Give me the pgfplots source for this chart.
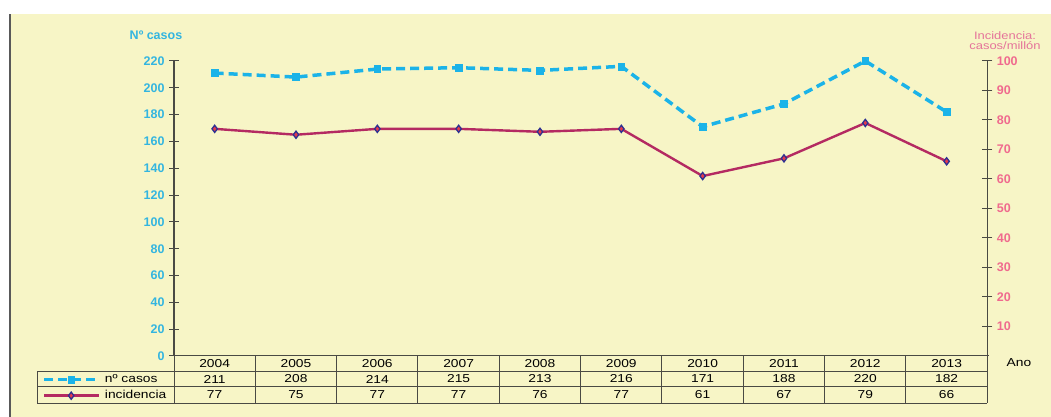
\documentclass[border=0pt]{standalone}
\usepackage{fontspec}
\setmainfont{Liberation Sans}
\newfontfamily\tablefont[FakeStretch=1.2]{Liberation Sans}
\usepackage{pgfplots}
\pgfplotsset{compat=1.18}
\definecolor{bg}{HTML}{F7F5C6}
\definecolor{cyanline}{HTML}{1BB3E8}
\definecolor{cyantext}{HTML}{33B5E0}
\definecolor{pinktext}{HTML}{F06A8E}
\definecolor{pinklabel}{HTML}{E5739A}
\definecolor{redline}{HTML}{B42A62}
\definecolor{markred}{HTML}{E53A4C}
\definecolor{marknavy}{HTML}{2E3192}
\definecolor{axisgray}{HTML}{4A4A44}

\pgfplotsset{
  casosstyle/.style={cyanline, line width=3.5pt, dash pattern=on 9pt off 5pt,
    mark=square*, mark size=3.4pt, mark options={solid, fill=cyanline, draw=cyanline, line width=0.5pt}},
  incstyle/.style={redline, line width=2.4pt, mark=diamond*, mark size=3.6pt,
    mark options={solid, fill=markred, draw=marknavy, line width=1.3pt}},
  common/.style={at={(174pt,61pt)}, anchor=south west, scale only axis,
    width=813.3pt, height=295pt, xmin=-0.5, xmax=9.5, axis x line=none,
    clip=false, tick align=center, major tick length=10pt,
    y axis line style={axisgray, line width=1.2pt, -},
    ytick style={axisgray, line width=1pt},
    /pgf/number format/assume math mode=true,
    yticklabel style={font=\fontsize{12.5}{13}\selectfont\bfseries},
  },
}

\begin{document}
\begin{tikzpicture}
\useasboundingbox (0,0) rectangle (1051pt,417pt);
\fill[white] (0,0) rectangle (1051pt,417pt);
\fill[bg] (9pt,0) rectangle (1051pt,403pt);
\draw[gray!70!black, line width=1.5pt] (9.75pt,0) -- (9.75pt,403pt);

\begin{axis}[common,
  axis y line*=left, ymin=0, ymax=220, ytick={0,20,...,220},
  yticklabel style={text=cyantext, xshift=-1pt},
  legend style={at={(axis description cs:-0.1620,-0.0525)}, anchor=north west,
    draw=none, fill=none, inner sep=0pt, row sep=0pt, legend cell align=left,
    font=\tablefont\fontsize{11.5}{12}\selectfont,
    nodes={inner ysep=2pt, text height=9pt, text depth=3pt, inner xsep=4pt}},
  legend image code/.code={\draw[mark repeat=2, mark phase=2, #1] plot coordinates {(0pt,0pt) (27pt,0pt) (55pt,0pt)};},
]
\addplot[casosstyle] coordinates {(0,211) (1,208) (2,214) (3,215) (4,213) (5,216) (6,171) (7,188) (8,220) (9,182)};
\addlegendentry{nº casos}
\addlegendimage{incstyle}
\addlegendentry{incidencia}
\end{axis}

\begin{axis}[common,
  axis y line*=right, ymin=0, ymax=100, ytick={10,20,...,100},
  yticklabel style={text=pinktext, xshift=1pt},
]
\addplot[incstyle] coordinates {(0,77) (1,75) (2,77) (3,77) (4,76) (5,77) (6,61) (7,67) (8,79) (9,66)};
\end{axis}

\begin{scope}[x=1pt, y=1pt]
\node[text=cyantext, font=\fontsize{12.5}{13}\selectfont\bfseries] at (156,382) {Nº casos};
\node[text=pinklabel, font=\tablefont\fontsize{10.8}{11}\selectfont, align=center, inner sep=0pt] at (1005,376.5) {Incidencia:\\[-1.5pt]casos/millón};
\node[font=\tablefont\fontsize{11.5}{12}\selectfont] at (1019,54.5) {Ano};
% table grid
\draw[axisgray, line width=1pt] (174,61) -- (989,61);
\draw[axisgray, line width=1pt] (37,45.5) -- (987.3,45.5);
\draw[axisgray, line width=1pt] (37,30) -- (987.3,30);
\draw[axisgray, line width=1pt] (37,13.5) -- (987.3,13.5);
\draw[axisgray, line width=1pt] (37,45.5) -- (37,13.5);
\foreach \k in {0,...,10} {
  \draw[axisgray, line width=1pt] (174+81.33*\k,61) -- (174+81.33*\k,13.5);
}
\foreach \yr/\nc/\inc [count=\i from 0] in {2004/211/77, 2005/208/75, 2006/214/77, 2007/215/77, 2008/213/76, 2009/216/77, 2010/171/61, 2011/188/67, 2012/220/79, 2013/182/66} {
  \pgfmathsetmacro\cx{174+81.33*(\i+0.5)}
  \node[font=\tablefont\fontsize{11.5}{12}\selectfont] at (\cx,53.5) {\yr};
  \node[font=\tablefont\fontsize{11.5}{12}\selectfont] at (\cx,38) {\nc};
  \node[font=\tablefont\fontsize{11.5}{12}\selectfont] at (\cx,22) {\inc};
}
\end{scope}
\end{tikzpicture}
\end{document}
